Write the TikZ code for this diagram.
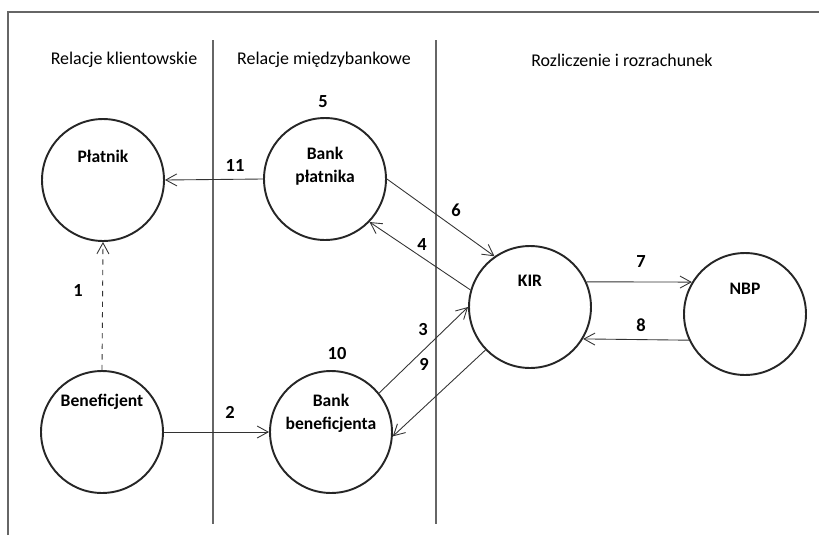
\documentclass[tikz,border=0pt]{standalone}
\usepackage{fontspec}
\setmainfont{Carlito}
\usetikzlibrary{arrows.meta}

\begin{document}
\begin{tikzpicture}[x=0.02cm,y=-0.02cm,
    >={Straight Barb[length=0.22cm,width=0.24cm]},
    kolo/.style={draw=black!85, line width=1.1pt, circle, minimum size=2.44cm, inner sep=0pt},
    opis/.style={font=\bfseries\fontsize{10}{13}\selectfont, align=center},
    numer/.style={font=\bfseries\fontsize{10.5}{12}\selectfont},
    naglowek/.style={font=\fontsize{10.2}{12}\selectfont},
    strz/.style={->, line width=0.5pt, black!80}]
  \useasboundingbox (0,0) rectangle (819,535);
  % frame and columns
  \draw[black!60, line width=0.6pt] (8,535) -- (8,12) -- (819,12);
  \draw[black!60, line width=0.6pt] (213,40) -- (213,524);
  \draw[black!60, line width=0.6pt] (436,40) -- (436,524);
  \node[naglowek] (k1) at (124,60) {Relacje klientowskie};
  \node[naglowek] (k2) at (324,60) {Relacje międzybankowe};
  \node[naglowek] (k3) at (622,60) {Rozliczenie i rozrachunek};

  % circles
  \node[kolo] (platnik) at (103,180) {};
  \node[kolo] (bankp) at (325,179) {};
  \node[kolo] (benef) at (102,432) {};
  \node[kolo] (bankb) at (331,432) {};
  \node[kolo] (kir) at (530,307) {};
  \node[kolo] (nbp) at (745,314) {};
  \node[opis] at (103,156) {Płatnik};
  \node[opis] at (325,166) {Bank\\płatnika};
  \node[opis] at (102,402) {Beneficjent};
  \node[opis] at (331,413) {Bank\\beneficjenta};
  \node[opis] at (530,281) {KIR};
  \node[opis] at (745,289) {NBP};

  % flows
  \draw[strz] (bankp.west) -- (platnik.east);
  \draw[strz, dashed] (benef.north) -- (platnik.south);
  \draw[strz] (benef.east) -- (bankb.west);
  \draw[strz] (bankp.east) -- (kir.125);
  \draw[strz] (kir.164) -- (bankp.-44);
  \draw[strz] (bankb.39) -- (kir.180);
  \draw[strz] (kir.224) -- (bankb.-4);
  \draw[strz] (kir.24.5) -- (nbp.149.5);
  \draw[strz] (nbp.205) -- (kir.-31);

  % numbers
  \node[numer] (n1) at (78,291) {1};
  \node[numer] (n2) at (230,412) {2};
  \node[numer] (n3) at (423,330) {3};
  \node[numer] (n4) at (422,245) {4};
  \node[numer] (n5) at (323,102) {5};
  \node[numer] (n6) at (456,210) {6};
  \node[numer] (n7) at (641,262) {7};
  \node[numer] (n8) at (641,325) {8};
  \node[numer] (n9) at (424,364) {9};
  \node[numer] (n10) at (337,354) {10};
  \node[numer] (n11) at (235,166) {11};
\end{tikzpicture}
\end{document}
